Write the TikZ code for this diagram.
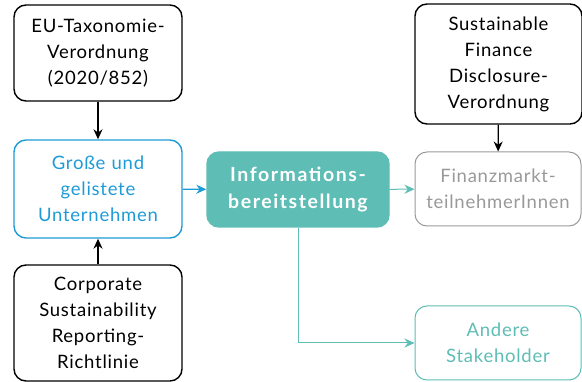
\documentclass[tikz,border=0pt]{standalone}
\usepackage{fontspec}
\setmainfont{Lato}[LetterSpace=4]
\usepackage{xcolor}
\usetikzlibrary{arrows.meta,positioning}

\definecolor{euBlue}{HTML}{1E9BD7}
\definecolor{euTeal}{HTML}{5EBDB5}
\definecolor{euGray}{HTML}{999999}

\begin{document}
\begin{tikzpicture}[x=1pt,y=-1pt,
    box/.style={rectangle, rounded corners=12pt, draw, line width=1.4pt,
      align=center, text width=164pt, font=\fontsize{18.5}{26}\selectfont,
      minimum width=168pt, inner sep=0pt},
    >={Stealth[length=10pt,width=9pt]}]

  \useasboundingbox (0,0) rectangle (582,382);

  \node[box, minimum height=96pt] (eu) at (98,53) {EU-Taxonomie-\\Verordnung\\(2020/852)};
  \node[box, draw=euBlue, text=euBlue, minimum height=98pt] (gross) at (98,189)
    {Große und\\gelistete\\Unternehmen};
  \node[box, minimum height=116pt] (csr) at (98,323)
    {Corporate\\Sustainability\\Reporting-\\Richtlinie};
  \node[box, draw=euTeal, fill=euTeal, text=white, minimum width=182pt,
    minimum height=75pt, text width=178pt,
    font=\fontsize{19.5}{27}\selectfont\bfseries\addfontfeature{LetterSpace=8}] (info) at (298,189.5)
    {Informations-\\bereitstellung};
  \node[box, minimum width=167pt, minimum height=120pt] (sfdr) at (498.5,64)
    {Sustainable\\Finance\\Disclosure-\\Verordnung};
  \node[box, draw=euGray, text=euGray, minimum width=166pt, minimum height=74pt,
    line width=1pt] (fin) at (498,189) {Finanzmarkt-\\teilnehmerInnen};
  \node[box, draw=euTeal, text=euTeal, minimum width=166pt, minimum height=74pt,
    line width=1pt] (andere) at (498,343) {Andere\\Stakeholder};

  % Zuflüsse
  \draw[->, line width=1.2pt] (eu) -- (gross);
  \draw[->, line width=1.2pt] (csr) -- (gross);
  \draw[->, line width=1.2pt] (sfdr) -- (fin);
  \draw[->, euBlue, line width=1.2pt] (gross) -- (info);
  % Abflüsse
  \draw[->, euTeal, line width=1pt] (info) -- (fin);
  \draw[->, euTeal, line width=1pt] (info.south) |- (andere.west);
\end{tikzpicture}
\end{document}
